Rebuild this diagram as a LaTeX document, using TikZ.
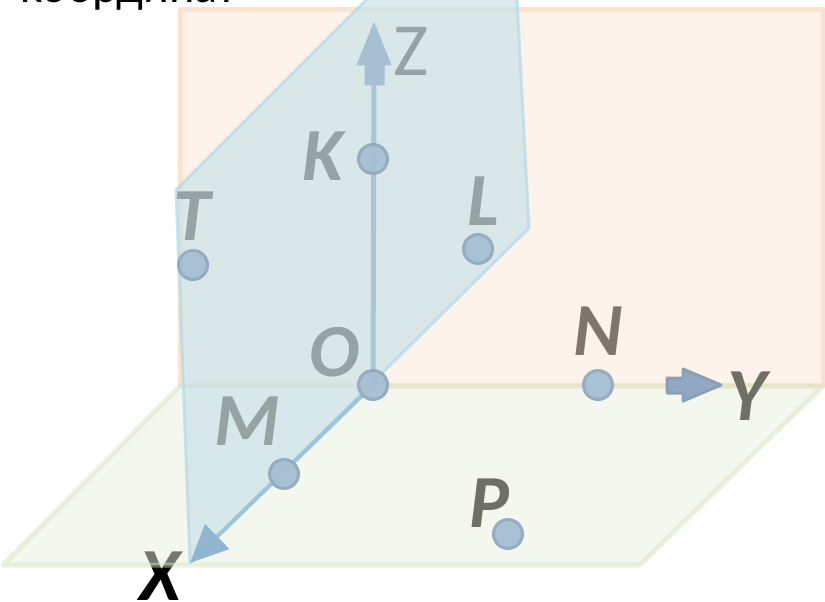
\documentclass[tikz,border=0pt]{standalone}
\usepackage{fontspec}
\setmainfont{Carlito}
\usetikzlibrary{arrows.meta}
\definecolor{orfill}{HTML}{FDF3EA}
\definecolor{ordraw}{HTML}{FCE3CF}
\definecolor{grfill}{HTML}{E9EFDD}
\definecolor{grdraw}{HTML}{D8E5BE}
\definecolor{blfill}{HTML}{CAE2E9}
\definecolor{bldraw}{HTML}{B2DAEA}
\definecolor{ptfill}{HTML}{A6BFD3}
\definecolor{ptdraw}{HTML}{93ABC1}
\definecolor{zcol}{HTML}{A9C4D6}
\definecolor{zhead}{HTML}{A6BFD3}
\definecolor{xcol}{HTML}{9DC4DC}
\definecolor{xhead}{HTML}{90B5CF}
\definecolor{yfill}{HTML}{8FA8C4}
\definecolor{ydraw}{HTML}{8CA0B4}
\definecolor{lblblue}{HTML}{95A3A3}
\definecolor{lblorange}{HTML}{7F756D}
\definecolor{lblgreen}{HTML}{6F6F66}
\begin{document}
\begin{tikzpicture}[x=1pt,y=-1pt,
  lbl/.style={font=\fontsize{75}{80}\selectfont\bfseries\itshape, inner sep=0pt, anchor=base},
  ptnode/.style={circle, minimum size=29pt, inner sep=0pt, fill=ptfill, draw=ptdraw, line width=3pt, fill opacity=0.95, draw opacity=0.95},
  plane/.style={line join=round}
]
\useasboundingbox (0,0) rectangle (825,602);

% title (cut off at the top, as in the reference)
\node[anchor=base west, inner sep=0pt, font=\fontsize{48}{52}\selectfont] (title) at (20,3) {координат};

% X label below the floor plane
\node[lbl, text=black] (lx) at (160,600) {X};

% planes
\filldraw[plane, fill=orfill, draw=ordraw, line width=5pt] (180,10) rectangle (823,385);
\filldraw[plane, fill=grfill, draw=grdraw, line width=5pt, fill opacity=0.5, draw opacity=0.5]
  (180,386) -- (823,386) -- (640,565) -- (3,565) -- cycle;
\filldraw[plane, fill=blfill, draw=bldraw, line width=3pt, fill opacity=0.7, draw opacity=0.7]
  (176,190) -- (386,-20) -- (516,-20) -- (529,228) -- (190,563) -- cycle;

% key coordinates
\coordinate (o) at (373,385);
\coordinate (zb) at (374,84);
\coordinate (xt) at (190,563);

% axes
\draw[zcol, line width=5pt] (o) -- (zb);
\filldraw[fill=zhead, draw=zhead, line width=1pt, line join=round]
  (365,85) -- (365,65) -- (357,65) -- (374,23) -- (391,65) -- (384,65) -- (384,85) -- cycle;
\draw[xcol, line width=4pt, -{Triangle[length=38pt,width=34pt,color=xhead]}] (o) -- (xt);
\filldraw[fill=yfill, draw=ydraw, line width=3pt, line join=round]
  (667,378) -- (683,378) -- (683,369) -- (721,385) -- (683,401) -- (683,393) -- (667,393) -- cycle;

% points
\node[ptnode] (K) at (373,159) {};
\node[ptnode] (L) at (478,249) {};
\node[ptnode] (T) at (193,265) {};
\node[ptnode] (O) at (o) {};
\node[ptnode] (N) at (598,385) {};
\node[ptnode] (M) at (284,474) {};
\node[ptnode] (P) at (508,534) {};

% labels
\node[inner sep=0pt, anchor=base, text=lblblue, font=\fontsize{75}{80}\selectfont] (lz) at (411,75) {Z};
\node[lbl, text=lblblue] (lk) at (323,180) {K};
\node[lbl, text=lblblue] (ll) at (483,225) {L};
\node[lbl, text=lblblue] (lt) at (192,240) {T};
\node[lbl, text=lblblue] (lo) at (335,376) {O};
\node[lbl, text=lblblue] (lm) at (247,445) {M};
\node[lbl, text=lblorange] (ln) at (598,355) {N};
\node[lbl, text=lblgreen] (ly) at (747,420) {Y};
\node[lbl, text=lblgreen] (lp) at (489,527) {P};
\end{tikzpicture}
\end{document}
